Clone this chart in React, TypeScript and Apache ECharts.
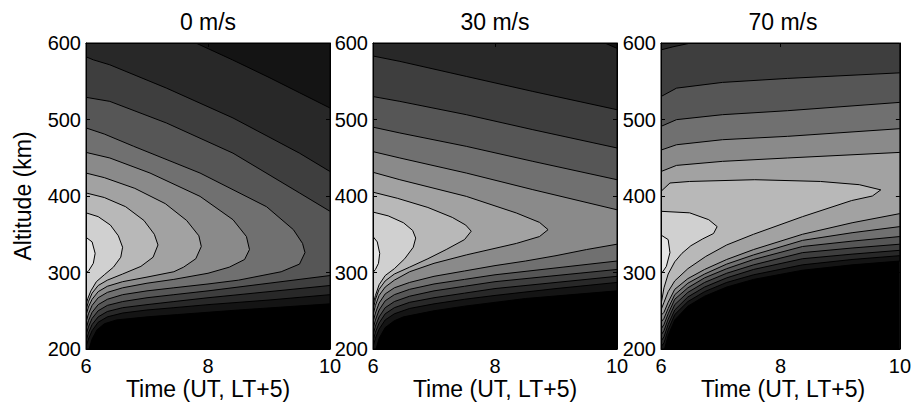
import React, { useEffect, useRef } from 'react';
import * as echarts from 'echarts';

type Pt = [number, number];

const panelTitles = ['0 m/s', '30 m/s', '70 m/s'];
const timeRange = [6, 10];
const timeInterval = 2;
const altRange = [200, 600];
const altInterval = 100;
const xAxisName = 'Time (UT, LT+5)';
const yAxisName = 'Altitude (km)';

// grey level of each filled band, from the lowest band (background) to the highest
const bandGrays = [0, 20, 40, 62, 86, 112, 138, 162, 184, 208, 229];

// Filled-contour regions (value >= level), level a .. j, points as [time (h), altitude (km)]
const contours0ms: Pt[][] = [
  [[6,600],[10,600],[10,259],[8.5,251],[7.5,245],[7,242],[6.5,238],[6.3,233],[6.18,225],[6.1,213],[6.05,200],[6,200]],
  [[6,600],[7.8,600],[8.4,578],[9,555],[9.5,535],[10,515],[10,271],[9,264],[8,258],[7.44,254],[7,251],[6.6,247],[6.35,242],[6.2,235],[6.1,224],[6.04,213],[6,203]],
  [[6,582],[6.12,578],[6.39,571.5],[7.32,541],[8.41,502],[9.5,456],[10,432],[10,283],[9,275],[8,267],[7.44,262],[7,258],[6.6,254],[6.35,249],[6.2,242],[6.1,232],[6.04,221],[6,210]],
  [[6,529],[6.39,523.7],[7.32,495.4],[8.41,456],[9.5,404],[10,380],[10,296],[9,286],[8,276],[7.44,271],[7,267],[6.6,262],[6.35,257],[6.2,250],[6.1,240],[6.04,229],[6,218]],
  [[6,489],[6.3,481],[6.78,465],[7.87,430],[8.96,386],[9.4,356],[9.55,338],[9.59,326],[9.5,311],[9.2,301],[8.5,290],[8,285],[7.44,280],[7,276],[6.6,271],[6.35,265],[6.2,258],[6.1,248],[6.04,237],[6,226]],
  [[6,457],[6.39,449.7],[7.05,430],[7.87,399.5],[8.41,369],[8.63,347],[8.68,330],[8.6,317],[8.35,307],[8,299],[7.44,291],[7,286],[6.6,280],[6.35,274],[6.2,267],[6.1,257],[6.04,246],[6,235]],
  [[6,430],[6.3,424],[6.8,410],[7.3,390],[7.65,368],[7.85,348],[7.89,334],[7.8,318],[7.6,307],[7.44,301],[7,294],[6.6,288],[6.35,282],[6.2,275],[6.1,265],[6.04,255],[6,244]],
  [[6,404],[6.3,398],[6.65,386],[6.95,368],[7.12,350],[7.18,336],[7.1,320],[6.9,308],[6.6,298],[6.35,290],[6.2,283],[6.1,273],[6.04,262],[6,251]],
  [[6,378],[6.2,373],[6.4,362],[6.53,348],[6.6,333],[6.57,320],[6.45,307],[6.3,297],[6.17,288],[6.08,276],[6.03,266],[6,258]],
  [[6,346],[6.1,340],[6.15,325],[6.12,312],[6.05,303],[6,299]],
];

const contours30ms: Pt[][] = [
  [[6,600],[10,600],[10,276],[8.5,266],[7.5,256],[7,250],[6.5,242],[6.35,237],[6.2,228],[6.1,214],[6.05,200],[6,200]],
  [[6,600],[9.8,600],[10,593],[10,287],[9,279],[8,270],[7.5,265],[7,259],[6.6,253],[6.35,246],[6.2,238],[6.1,226],[6.04,214],[6,203]],
  [[6,583],[6.44,576],[7.53,556.3],[8.62,536.7],[10,512.8],[10,295],[9,287],[8,279],[7.5,273],[7,267],[6.6,261],[6.35,254],[6.2,246],[6.1,234],[6.04,222],[6,210]],
  [[6,530],[6.44,523.7],[7.53,506.3],[8.62,486.7],[10,462.8],[10,304],[9,296],[8,288],[7.5,282],[7,276],[6.6,269],[6.35,262],[6.2,254],[6.1,242],[6.04,230],[6,218]],
  [[6,490],[6.44,482.4],[7.53,464.9],[8.62,445.3],[10,421.3],[10,315],[9,306],[8,297],[7.5,291],[7,285],[6.6,278],[6.35,271],[6.2,263],[6.1,251],[6.04,238],[6,226]],
  [[6,458],[6.44,449.7],[7.53,430],[8.62,408.3],[10,382],[10,337],[9.5,330],[9,322],[8.5,315],[8,309],[7.5,302],[7,295],[6.6,287],[6.35,280],[6.2,272],[6.1,260],[6.04,247],[6,235]],
  [[6,431],[6.44,421.3],[7.53,399.5],[8.35,377.8],[8.73,365.5],[8.87,356],[8.73,347],[8.35,338],[7.53,323],[7,312],[6.6,301],[6.35,290],[6.2,281],[6.1,270],[6.04,257],[6,244]],
  [[6,405],[6.4,397],[6.9,385],[7.3,372],[7.52,362],[7.61,354],[7.5,343],[7.2,330],[6.9,318],[6.6,307],[6.35,298],[6.2,289],[6.1,278],[6.04,265],[6,251]],
  [[6,379],[6.25,374],[6.5,365],[6.65,355],[6.7,345],[6.66,333],[6.52,318],[6.35,305],[6.2,296],[6.1,284],[6.04,270],[6,258]],
  [[6,347],[6.07,340],[6.11,325],[6.09,312],[6.04,304],[6,300]],
];

const contours70ms: Pt[][] = [
  [[6,600],[10,600],[10,315],[9.2,310],[8.37,303],[7.55,291],[7.1,281],[6.73,269],[6.45,256],[6.23,238],[6.12,218],[6.06,200],[6,200]],
  [[6,600],[10,600],[10,322],[9.2,317],[8.37,310],[7.55,297],[7.1,287],[6.73,275],[6.45,262],[6.23,245],[6.12,225],[6.05,208],[6,203]],
  [[6,591],[6.2,595],[6.5,600],[10,600],[10,329],[9.2,324],[8.37,318],[7.55,304],[7.1,293],[6.73,281],[6.45,268],[6.23,251],[6.12,232],[6.05,216],[6,210]],
  [[6,530],[6.26,541],[7.03,548.5],[8.12,553.7],[10,561],[10,337],[9.2,332],[8.37,326],[7.55,310],[7.1,299],[6.73,287],[6.45,274],[6.23,258],[6.12,239],[6.05,224],[6,218]],
  [[6,491],[6.26,499.8],[7.03,506.3],[8.12,511.5],[10,522.4],[10,347],[9.2,341],[8.37,334],[7.55,317],[7.1,305],[6.73,293],[6.45,280],[6.23,265],[6.12,246],[6.05,232],[6,226]],
  [[6,460],[6.26,467],[7.03,473.6],[8.12,478],[10,488],[10,360],[9.2,352],[8.37,342],[7.55,323],[7.1,311],[6.73,298],[6.45,286],[6.23,271],[6.12,253],[6.05,240],[6,235]],
  [[6,432],[6.26,440],[7.03,445.3],[8.12,449.7],[10,457],[10,377],[9.2,365],[8.37,350],[7.55,330],[7.1,317],[6.73,304],[6.45,292],[6.23,278],[6.12,261],[6.05,248],[6,244]],
  [[6,406],[6.15,417],[6.48,419],[7.57,421.3],[8.67,419],[9.32,414.8],[9.68,408],[9.54,400],[9.19,394],[8.37,373],[7.55,350],[7.1,336],[6.75,321],[6.45,305],[6.23,289],[6.12,275],[6.05,261],[6,251]],
  [[6,380],[6.48,378],[6.8,369],[6.94,360],[6.88,351],[6.7,344],[6.5,335],[6.35,325],[6.23,314],[6.12,298],[6.05,280],[6,258]],
  [[6,349],[6.12,343],[6.15,326],[6.09,308],[6.02,300],[6,299]],
];

const panelContours = [contours0ms, contours30ms, contours70ms];

const FONT = '"Liberation Sans", Arial, Helvetica, sans-serif';

export default function App() {
  const ref = useRef<HTMLDivElement>(null);

  useEffect(() => {
    if (!ref.current) return;
    const chart = echarts.init(ref.current, null, { renderer: 'svg' });

    const gridLefts = [86, 373, 661];
    const gridTop = 43;
    const gridW = 244;
    const gridH = 306;

    const grey = (g: number) => `rgb(${g},${g},${g})`;

    const grids: any[] = [];
    const xAxes: any[] = [];
    const yAxes: any[] = [];
    const series: any[] = [];
    const graphics: any[] = [];

    const axisCommon = {
      type: 'value',
      axisLine: { show: true, onZero: false, lineStyle: { color: '#000', width: 1 } },
      axisTick: { show: true, inside: true, length: 4, lineStyle: { color: '#000', width: 1 } },
      splitLine: { show: false },
      z: 10,
    };

    panelContours.forEach((polys, i) => {
      grids.push({
        left: gridLefts[i], top: gridTop, width: gridW, height: gridH,
        show: true, backgroundColor: grey(bandGrays[0]), borderColor: '#000', borderWidth: 1,
      });
      xAxes.push({
        ...axisCommon, gridIndex: i, position: 'bottom',
        min: timeRange[0], max: timeRange[1], interval: timeInterval,
        axisLabel: { show: true, fontSize: 20, lineHeight: 17, color: '#000', fontFamily: FONT, margin: 8 },
      });
      xAxes.push({
        ...axisCommon, gridIndex: i, position: 'top',
        min: timeRange[0], max: timeRange[1], interval: timeInterval,
        axisLabel: { show: false },
      });
      yAxes.push({
        ...axisCommon, gridIndex: i, position: 'left',
        min: altRange[0], max: altRange[1], interval: altInterval,
        axisLabel: { show: true, fontSize: 20, lineHeight: 16, color: '#000', fontFamily: FONT, margin: 5 },
      });
      yAxes.push({
        ...axisCommon, gridIndex: i, position: 'right',
        min: altRange[0], max: altRange[1], interval: altInterval,
        axisLabel: { show: false },
      });
      series.push({
        type: 'custom',
        xAxisIndex: 2 * i,
        yAxisIndex: 2 * i,
        clip: true,
        z: 2,
        silent: true,
        data: polys.map((p, j) => [p[0][0], p[0][1], j]),
        renderItem: (params: any, api: any) => {
          const poly = polys[params.dataIndex];
          const pts = poly.map((p) => api.coord(p));
          return {
            type: 'polygon',
            shape: { points: pts },
            style: {
              fill: grey(bandGrays[params.dataIndex + 1]),
              stroke: '#000',
              lineWidth: 1,
            },
          };
        },
      });
      const cx = gridLefts[i] + gridW / 2;
      graphics.push({
        type: 'text', x: cx, y: 21.5, z: 20,
        style: { text: panelTitles[i], fontSize: 23, lineHeight: 22, fontFamily: FONT, fill: '#000', align: 'center', verticalAlign: 'middle' },
      });
      graphics.push({
        type: 'text', x: cx, y: 389, z: 20,
        style: { text: xAxisName, fontSize: 23, lineHeight: 22, fontFamily: FONT, fill: '#000', align: 'center', verticalAlign: 'middle' },
      });
    });

    graphics.push({
      type: 'text', x: 23, y: gridTop + gridH / 2, rotation: Math.PI / 2, z: 20,
      style: { text: yAxisName, fontSize: 23, lineHeight: 22, fontFamily: FONT, fill: '#000', align: 'center', verticalAlign: 'middle' },
    });

    chart.setOption({
      animation: false,
      backgroundColor: '#fff',
      grid: grids,
      xAxis: xAxes,
      yAxis: yAxes,
      series,
      graphic: graphics,
    });

    return () => chart.dispose();
  }, []);

  return (
    <div
      ref={ref}
      style={{ position: 'fixed', left: 0, top: 0, width: 914, height: 410 }}
    />
  );
}
